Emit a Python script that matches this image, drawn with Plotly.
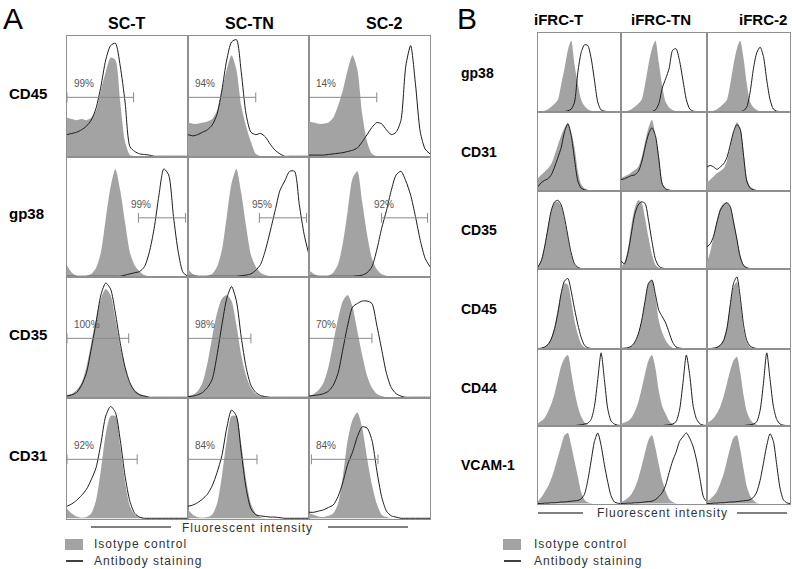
import plotly.graph_objects as go

W, H = 792, 569

# fluorescence axis (percent of the plotted range)
XS = [0, 4, 8, 12, 16, 20, 24, 28, 32, 36, 40, 44, 48, 52, 56, 60, 64, 68, 72, 76, 80, 84, 88, 92, 96, 100]

# ---- panel A: isotype control (ISO) and antibody staining (AB), % of max counts ----
A_CD45_T_ISO = [32, 31, 30, 31, 30, 32, 38, 55, 70, 82, 80, 45, 12, 1, 0, 0, 0, 0, 0, 0, 0, 0, 0, 0, 0, 0]
A_CD45_T_AB = [18, 19, 20, 22, 25, 30, 40, 58, 80, 92, 94, 75, 45, 8, 4, 2, 1.5, 1, 0, 0, 0, 0, 0, 0, 0, 0]
A_CD45_TN_ISO = [28, 27, 27, 28, 29, 31, 38, 55, 72, 84, 72, 42, 25, 12, 2, 0, 0, 0, 0, 0, 0, 0, 0, 0, 0, 0]
A_CD45_TN_AB = [18, 17, 18, 20, 22, 26, 35, 55, 80, 95, 97, 70, 35, 20, 18, 19, 16, 10, 5, 2, 0, 0, 0, 0, 0, 0]
A_CD45_2_ISO = [29, 28, 27, 27, 28, 32, 42, 55, 72, 84, 72, 35, 12, 2, 0, 0, 0, 0, 0, 0, 0, 0, 0, 0, 0, 0]
A_CD45_2_AB = [1, 1, 1, 1, 1.5, 2, 2.5, 3, 4, 5, 7, 12, 18, 24, 28, 27, 22, 18, 20, 30, 75, 92, 60, 20, 6, 2]

A_GP38_T_ISO = [9, 3, 0.5, 0, 0.5, 2, 7, 20, 48, 75, 90, 72, 45, 20, 9, 4, 1, 0, 0, 0, 0, 0, 0, 0, 0, 0]
A_GP38_T_AB = [0, 0, 0, 0, 0, 0, 0, 0, 0, 0, 0, 0, 1, 2, 3, 4, 8, 20, 40, 68, 90, 85, 50, 20, 3, 0]
A_GP38_TN_ISO = [6, 2, 0.5, 0, 0.5, 2, 8, 22, 50, 78, 90, 70, 42, 18, 8, 3, 1, 0, 0, 0, 0, 0, 0, 0, 0, 0]
A_GP38_TN_AB = [0, 0, 0, 0, 0, 0, 0, 0, 0, 0, 0, 0.5, 1, 2, 5, 10, 22, 38, 55, 72, 80, 88, 88, 60, 35, 18]
A_GP38_2_ISO = [5, 2, 0.5, 0, 0.5, 3, 10, 28, 55, 82, 88, 62, 35, 15, 6, 2, 0.5, 0, 0, 0, 0, 0, 0, 0, 0, 0]
A_GP38_2_AB = [0, 0, 0, 0, 0, 0, 0, 0, 0, 0, 0.5, 1, 3, 8, 22, 40, 55, 72, 85, 88, 80, 68, 50, 30, 15, 8]

A_CD35_T_ISO = [2, 3, 6, 12, 25, 45, 65, 82, 90, 85, 65, 42, 25, 12, 6, 3, 1.5, 0.5, 0, 0, 0, 0, 0, 0, 0, 0]
A_CD35_T_AB = [1, 2, 4, 10, 20, 40, 62, 85, 95, 90, 70, 45, 25, 12, 5, 2, 1, 0, 0, 0, 0, 0, 0, 0, 0, 0]
A_CD35_TN_ISO = [1, 2, 5, 12, 28, 50, 70, 82, 85, 80, 60, 35, 18, 8, 3, 1, 0, 0, 0, 0, 0, 0, 0, 0, 0, 0]
A_CD35_TN_AB = [0.5, 1, 2, 4, 8, 15, 35, 60, 82, 92, 80, 50, 25, 10, 4, 1.5, 0.5, 0, 0, 0, 0, 0, 0, 0, 0, 0]
A_CD35_2_ISO = [1, 3, 6, 12, 25, 45, 65, 80, 85, 75, 55, 35, 18, 8, 3, 1, 0, 0, 0, 0, 0, 0, 0, 0, 0, 0]
A_CD35_2_AB = [1, 1.5, 2, 3, 5, 10, 20, 40, 60, 75, 78, 80, 80, 78, 60, 40, 20, 8, 3, 1, 0, 0, 0, 0, 0, 0]

A_CD31_T_ISO = [8, 4, 1.5, 0.5, 1, 4, 15, 40, 70, 85, 85, 60, 30, 10, 3, 1, 0, 0, 0, 0, 0, 0, 0, 0, 0, 0]
A_CD31_T_AB = [10, 12, 15, 19, 24, 32, 42, 62, 85, 93, 88, 65, 35, 14, 4, 1, 0, 0, 0, 0, 0, 0, 0, 0, 0, 0]
A_CD31_TN_ISO = [7, 3, 1, 0.5, 1, 3, 12, 35, 65, 85, 85, 62, 32, 12, 4, 1, 0, 0, 0, 0, 0, 0, 0, 0, 0, 0]
A_CD31_TN_AB = [10, 11, 13, 16, 20, 27, 38, 52, 75, 90, 85, 55, 25, 8, 3, 2, 1.5, 1, 1, 0.5, 0, 0, 0, 0, 0, 0]
A_CD31_2_ISO = [4, 3, 1.5, 1, 2, 4, 12, 35, 65, 82, 88, 75, 50, 28, 12, 3, 1, 0, 0, 0, 0, 0, 0, 0, 0, 0]
A_CD31_2_AB = [5, 5, 6, 7, 9, 11, 18, 30, 45, 55, 68, 76, 75, 65, 40, 18, 6, 2, 1, 0, 0, 0, 0, 0, 0, 0]

# ---- panel B ----
B_GP38_T_ISO = [0, 0.5, 1, 3, 6, 10, 15, 35, 55, 78, 90, 60, 35, 15, 7, 3, 1, 0, 0, 0, 0, 0, 0, 0, 0, 0]
B_GP38_T_AB = [0, 0, 0, 0, 0, 0, 0, 0, 0, 1, 3, 12, 50, 75, 85, 84, 68, 40, 12, 2, 0.5, 0, 0, 0, 0, 0]
B_GP38_TN_ISO = [0, 0.5, 1, 3, 6, 10, 15, 35, 60, 80, 90, 62, 32, 12, 5, 2, 0.5, 0, 0, 0, 0, 0, 0, 0, 0, 0]
B_GP38_TN_AB = [0, 0, 0, 0, 0, 0, 0, 0, 0, 0, 2, 10, 30, 42, 55, 78, 80, 65, 40, 15, 3, 0.5, 0, 0, 0, 0]
B_GP38_2_ISO = [0, 0.5, 1, 3, 6, 10, 15, 35, 60, 80, 90, 68, 35, 12, 5, 2, 0.5, 0, 0, 0, 0, 0, 0, 0, 0, 0]
B_GP38_2_AB = [0, 0, 0, 0, 0, 0, 0, 0, 0, 0, 0, 1, 6, 25, 55, 75, 82, 70, 40, 15, 3, 0.5, 0, 0, 0, 0]

B_CD31_T_ISO = [16, 20, 24, 28, 34, 45, 58, 70, 80, 86, 75, 55, 25, 8, 3, 1, 0, 0, 0, 0, 0, 0, 0, 0, 0, 0]
B_CD31_T_AB = [5, 10, 13, 15, 20, 30, 42, 55, 75, 85, 70, 40, 12, 3, 1, 0, 0, 0, 0, 0, 0, 0, 0, 0, 0, 0]
B_CD31_TN_ISO = [16, 18, 20, 23, 26, 30, 42, 62, 80, 90, 70, 45, 10, 3, 1, 0, 0, 0, 0, 0, 0, 0, 0, 0, 0, 0]
B_CD31_TN_AB = [14, 15, 17, 19, 20, 24, 36, 55, 72, 80, 70, 40, 8, 2, 0.5, 0, 0, 0, 0, 0, 0, 0, 0, 0, 0, 0]
B_CD31_2_ISO = [10, 14, 18, 22, 25, 28, 38, 55, 75, 87, 80, 50, 15, 5, 2, 0.5, 0, 0, 0, 0, 0, 0, 0, 0, 0, 0]
B_CD31_2_AB = [30, 32, 30, 27, 30, 34, 42, 58, 75, 84, 78, 45, 12, 3, 1, 0, 0, 0, 0, 0, 0, 0, 0, 0, 0, 0]

B_CD35_T_ISO = [3, 12, 30, 55, 75, 85, 86, 80, 62, 40, 18, 5, 1, 0, 0, 0, 0, 0, 0, 0, 0, 0, 0, 0, 0, 0]
B_CD35_T_AB = [2, 10, 28, 52, 75, 86, 88, 82, 65, 42, 20, 6, 1.5, 0, 0, 0, 0, 0, 0, 0, 0, 0, 0, 0, 0, 0]
B_CD35_TN_ISO = [2, 8, 25, 55, 78, 88, 85, 65, 40, 18, 5, 1, 0, 0, 0, 0, 0, 0, 0, 0, 0, 0, 0, 0, 0, 0]
B_CD35_TN_AB = [10, 6, 20, 45, 70, 82, 86, 84, 62, 35, 12, 3, 0.5, 0, 0, 0, 0, 0, 0, 0, 0, 0, 0, 0, 0, 0]
B_CD35_2_ISO = [8, 22, 42, 62, 78, 84, 85, 80, 62, 40, 18, 5, 1, 0, 0, 0, 0, 0, 0, 0, 0, 0, 0, 0, 0, 0]
B_CD35_2_AB = [28, 32, 42, 60, 75, 82, 85, 80, 60, 38, 15, 4, 1, 0, 0, 0, 0, 0, 0, 0, 0, 0, 0, 0, 0, 0]

B_CD45_T_ISO = [0, 0.5, 2, 6, 14, 28, 50, 70, 82, 80, 60, 35, 18, 6, 1.5, 0, 0, 0, 0, 0, 0, 0, 0, 0, 0, 0]
B_CD45_T_AB = [0, 0.5, 2, 5, 12, 25, 45, 70, 85, 88, 72, 50, 30, 14, 4, 1, 0, 0, 0, 0, 0, 0, 0, 0, 0, 0]
B_CD45_TN_ISO = [0, 0.5, 1, 3, 8, 18, 35, 60, 82, 86, 65, 35, 20, 10, 4, 1, 0, 0, 0, 0, 0, 0, 0, 0, 0, 0]
B_CD45_TN_AB = [0, 0.5, 1, 3, 8, 18, 35, 60, 82, 86, 68, 48, 40, 32, 20, 8, 2, 0.5, 0, 0, 0, 0, 0, 0, 0, 0]
B_CD45_2_ISO = [0, 0, 0.5, 2, 5, 12, 28, 55, 78, 84, 60, 25, 8, 2, 0.5, 0, 0, 0, 0, 0, 0, 0, 0, 0, 0, 0]
B_CD45_2_AB = [0, 0, 0.5, 1.5, 4, 10, 25, 55, 82, 90, 65, 30, 10, 3, 1, 0, 0, 0, 0, 0, 0, 0, 0, 0, 0, 0]

B_CD44_T_ISO = [3, 6, 10, 18, 28, 42, 60, 78, 88, 92, 70, 45, 25, 12, 4, 1, 0, 0, 0, 0, 0, 0, 0, 0, 0, 0]
B_CD44_T_AB = [0, 0, 0, 0, 0, 0, 0, 0, 0, 0, 0, 0, 0.5, 1, 2, 3, 8, 25, 60, 95, 60, 22, 6, 2, 0.5, 0]
B_CD44_TN_ISO = [2, 4, 6, 10, 18, 30, 48, 68, 85, 92, 75, 45, 25, 15, 6, 2, 0.5, 0, 0, 0, 0, 0, 0, 0, 0, 0]
B_CD44_TN_AB = [0, 0, 0, 0, 0, 0, 0, 0, 0, 0, 0, 0, 0, 0.5, 1, 2, 5, 20, 55, 92, 65, 25, 8, 2, 0.5, 0]
B_CD44_2_ISO = [3, 6, 10, 16, 25, 38, 55, 72, 85, 90, 70, 40, 18, 8, 3, 1, 0, 0, 0, 0, 0, 0, 0, 0, 0, 0]
B_CD44_2_AB = [0, 0, 0, 0, 0, 0, 0, 0, 0, 0, 0, 0, 0.5, 1, 2, 5, 20, 55, 95, 60, 25, 8, 2, 0.5, 0, 0]

B_VCAM_T_ISO = [3, 8, 15, 22, 32, 45, 60, 75, 88, 91, 75, 55, 35, 15, 5, 1.5, 0.5, 0, 0, 0, 0, 0, 0, 0, 0, 0]
B_VCAM_T_AB = [0, 0, 0.5, 0.5, 1, 1, 1.5, 2, 2, 2.5, 3, 3.5, 4, 6, 12, 30, 55, 80, 91, 75, 50, 28, 10, 2, 0.5, 0]
B_VCAM_TN_ISO = [2, 4, 7, 12, 20, 32, 48, 66, 82, 88, 72, 50, 30, 16, 6, 2, 0.5, 0, 0, 0, 0, 0, 0, 0, 0, 0]
B_VCAM_TN_AB = [0, 0, 0.5, 0.5, 1, 1, 1.5, 2, 2.5, 3, 5, 9, 14, 24, 40, 55, 66, 80, 86, 91, 84, 73, 55, 31, 8, 2]
B_VCAM_2_ISO = [3, 6, 10, 16, 26, 38, 55, 72, 85, 88, 70, 45, 22, 10, 4, 1, 0, 0, 0, 0, 0, 0, 0, 0, 0, 0]
B_VCAM_2_AB = [0, 0, 0.5, 0.5, 1, 1, 1.5, 2, 2, 2.5, 3, 3.5, 4, 5, 8, 15, 30, 52, 75, 90, 80, 50, 20, 5, 1, 0]

A_COL_LABELS = ["SC-T", "SC-TN", "SC-2"]
A_ROW_LABELS = ["CD45", "gp38", "CD35", "CD31"]
B_COL_LABELS = ["iFRC-T", "iFRC-TN", "iFRC-2"]
B_ROW_LABELS = ["gp38", "CD31", "CD35", "CD45", "CD44", "VCAM-1"]

# gated percentages in panel A and the gate ranges (start, end)
A_PCT = [["99%", "94%", "14%"], ["99%", "95%", "92%"], ["100%", "98%", "70%"], ["92%", "84%", "84%"]]
A_GATE_START = [[0, 0, 0], [59, 59, 60], [0, 0, 0], [0, 0, 2]]
A_GATE_END = [[55, 56, 56], [98, 98, 98], [51, 52, 52], [58, 57, 57]]

A_ISO = [[A_CD45_T_ISO, A_CD45_TN_ISO, A_CD45_2_ISO], [A_GP38_T_ISO, A_GP38_TN_ISO, A_GP38_2_ISO],
         [A_CD35_T_ISO, A_CD35_TN_ISO, A_CD35_2_ISO], [A_CD31_T_ISO, A_CD31_TN_ISO, A_CD31_2_ISO]]
A_AB = [[A_CD45_T_AB, A_CD45_TN_AB, A_CD45_2_AB], [A_GP38_T_AB, A_GP38_TN_AB, A_GP38_2_AB],
        [A_CD35_T_AB, A_CD35_TN_AB, A_CD35_2_AB], [A_CD31_T_AB, A_CD31_TN_AB, A_CD31_2_AB]]
B_ISO = [[B_GP38_T_ISO, B_GP38_TN_ISO, B_GP38_2_ISO], [B_CD31_T_ISO, B_CD31_TN_ISO, B_CD31_2_ISO],
         [B_CD35_T_ISO, B_CD35_TN_ISO, B_CD35_2_ISO], [B_CD45_T_ISO, B_CD45_TN_ISO, B_CD45_2_ISO],
         [B_CD44_T_ISO, B_CD44_TN_ISO, B_CD44_2_ISO], [B_VCAM_T_ISO, B_VCAM_TN_ISO, B_VCAM_2_ISO]]
B_AB = [[B_GP38_T_AB, B_GP38_TN_AB, B_GP38_2_AB], [B_CD31_T_AB, B_CD31_TN_AB, B_CD31_2_AB],
        [B_CD35_T_AB, B_CD35_TN_AB, B_CD35_2_AB], [B_CD45_T_AB, B_CD45_TN_AB, B_CD45_2_AB],
        [B_CD44_T_AB, B_CD44_TN_AB, B_CD44_2_AB], [B_VCAM_T_AB, B_VCAM_TN_AB, B_VCAM_2_AB]]

# grid edges in pixels
A_XE = [67, 188, 309, 430]
A_YE = [36, 157, 277, 398, 519]
B_XE = [538, 621, 707, 790]
B_YE = [33, 112, 191, 269, 349, 426, 504]

FONT = "Liberation Sans, Arial, Helvetica, sans-serif"
GRAY = "#a3a3a3"
FRAME = "#8f8f8f"
INK = "#1c1c1c"


def px(x):
    return x / W


def py(y):
    return 1 - y / H


fig = go.Figure()
annotations = []
shapes = []
axes = {}
count = 0


def add_panel(x0, x1, y0, y1, iso, ab):
    global count
    count += 1
    sfx = "" if count == 1 else str(count)
    xa, ya = "x" + sfx, "y" + sfx
    fig.add_trace(go.Scatter(x=XS, y=iso, xaxis=xa, yaxis=ya, mode="lines", fill="tozeroy",
                             fillcolor=GRAY, line=dict(width=0, color=GRAY, shape="spline", smoothing=0.7),
                             hoverinfo="skip", showlegend=False))
    fig.add_trace(go.Scatter(x=XS, y=ab, xaxis=xa, yaxis=ya, mode="lines",
                             line=dict(width=1, color=INK, shape="spline", smoothing=0.7),
                             hoverinfo="skip", showlegend=False))
    common = dict(showticklabels=False, ticks="", showgrid=False, zeroline=False,
                  showline=True, mirror=True, linecolor=FRAME, linewidth=1, fixedrange=True)
    axes["xaxis" + sfx] = dict(domain=[px(x0), px(x1)], range=[0, 100], anchor=ya, **common)
    axes["yaxis" + sfx] = dict(domain=[py(y1), py(y0)], range=[-0.6, 100], anchor=xa, **common)
    return xa, ya


for r in range(4):
    for c in range(3):
        xa, ya = add_panel(A_XE[c], A_XE[c + 1], A_YE[r], A_YE[r + 1], A_ISO[r][c], A_AB[r][c])
        s, e = A_GATE_START[r][c], A_GATE_END[r][c]
        fig.add_trace(go.Scatter(x=[s, e], y=[49, 49], xaxis=xa, yaxis=ya, mode="lines+markers",
                                 line=dict(width=1, color="#888888"),
                                 marker=dict(symbol="line-ns-open", size=7, color="#888888",
                                             line=dict(width=1, color="#888888")),
                                 hoverinfo="skip", showlegend=False))
        annotations.append(dict(x=max(s - 8, 4), y=54, xref=xa, yref=ya, text=A_PCT[r][c],
                                showarrow=False, xanchor="left", yanchor="bottom",
                                font=dict(family=FONT, size=10, color="#555555")))

for r in range(6):
    for c in range(3):
        add_panel(B_XE[c], B_XE[c + 1], B_YE[r], B_YE[r + 1], B_ISO[r][c], B_AB[r][c])


def label(x, y, text, size, bold=False, anchor="center", color="#000000", spacing=0):
    t = "<b>%s</b>" % text if bold else text
    if spacing:
        t = "<span style='letter-spacing:%spx'>%s</span>" % (spacing, t)
    annotations.append(dict(x=px(x), y=py(y), xref="paper", yref="paper", text=t, showarrow=False,
                            xanchor=anchor, yanchor="middle", font=dict(family=FONT, size=size, color=color)))


# panel letters and headers
label(13, 19, "A", 30)
label(467, 19, "B", 30)
for c, name in enumerate(A_COL_LABELS):
    label([127, 249, 384][c], 23, name, 16, bold=True)
for c, name in enumerate(B_COL_LABELS):
    label([558, 661, 763][c], 20, name, 15, bold=True)
for r, name in enumerate(A_ROW_LABELS):
    label(7, (A_YE[r] + A_YE[r + 1]) / 2 - 3, name, 15, bold=True, anchor="left")
for r, name in enumerate(B_ROW_LABELS):
    label(459, (B_YE[r] + B_YE[r + 1]) / 2, name, 14, bold=True, anchor="left")


def hline(x0, x1, y, color="#000000", width=1):
    shapes.append(dict(type="line", xref="paper", yref="paper", x0=px(x0), x1=px(x1), y0=py(y), y1=py(y),
                       line=dict(color=color, width=width)))


# axis captions
hline(91, 171, 527)
hline(328, 408, 527)
label(247, 528, "Fluorescent intensity", 12, color="#333333", spacing=1)
hline(538, 583, 513)
hline(737, 787, 513)
label(662, 513, "Fluorescent intensity", 12, color="#333333", spacing=1)

# legends
for sx, tx in [(65, 92), (503, 532)]:
    shapes.append(dict(type="rect", xref="paper", yref="paper", x0=px(sx), x1=px(sx + 18),
                       y0=py(550), y1=py(539), fillcolor=GRAY, line=dict(width=0)))
    label(tx, 544, "Isotype control", 12, anchor="left", color="#333333", spacing=1)
    hline(sx + 1, sx + 18, 561, color="#000000", width=1.5)
    label(tx, 561, "Antibody staining", 12, anchor="left", color="#333333", spacing=1)

fig.update_layout(
    width=W, height=H,
    margin=dict(l=0, r=0, t=0, b=0),
    paper_bgcolor="white", plot_bgcolor="white",
    showlegend=False,
    annotations=annotations,
    shapes=shapes,
    **axes,
)

# the page's default body margin would shift the figure by 8px
fig.write_html("out.html", config={"displayModeBar": False, "staticPlot": True},
               post_script="document.body.style.margin='0';document.body.style.overflow='hidden';")
